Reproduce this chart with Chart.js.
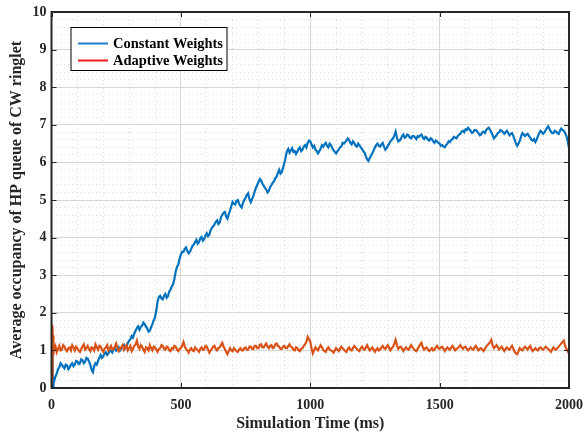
<!DOCTYPE html>
<html lang="en">
<head>
<meta charset="UTF-8">
<title>HP queue occupancy</title>
<script src="https://cdn.jsdelivr.net/npm/chart.js@4.4.3/dist/chart.umd.min.js"></script>
<style>
  html, body { margin: 0; padding: 0; background: #fff; }
</style>
</head>
<body>
<canvas id="chart" width="584" height="434"></canvas>
<script>
// start-up transient, sampled every ms
const earlyTime = [0, 1, 2, 3, 4, 5, 6, 7, 8];
const constantEarly = [0, 0.95, 0.10, 0.90, 0.05, 0.60, 0.02, 0.10, 0.12];
const adaptiveEarly = [0, 1.70, 0.30, 1.65, 0.60, 1.55, 0.90, 1.40, 1.00];

// afterwards one sample every 5 ms (10 .. 2000), one row = 50 ms
const sampleStart = 10;
const sampleStep = 5;
const constantWeights = [
  0.18, 0.30, 0.38, 0.50, 0.55, 0.66, 0.62, 0.56, 0.52, 0.62,
  0.60, 0.50, 0.55, 0.62, 0.66, 0.58, 0.62, 0.72, 0.71, 0.64,
  0.66, 0.76, 0.74, 0.66, 0.70, 0.80, 0.78, 0.70, 0.62, 0.48,
  0.42, 0.58, 0.66, 0.62, 0.72, 0.80, 0.88, 0.80, 0.84, 0.92,
  0.95, 0.88, 0.92, 1.00, 0.98, 0.94, 1.04, 1.06, 0.99, 1.02,
  1.08, 1.00, 1.05, 1.12, 1.15, 1.06, 1.10, 1.20, 1.26, 1.30,
  1.38, 1.34, 1.45, 1.52, 1.60, 1.64, 1.55, 1.62, 1.66, 1.74,
  1.70, 1.64, 1.58, 1.50, 1.52, 1.62, 1.70, 1.80, 1.88, 2.06,
  2.30, 2.42, 2.45, 2.38, 2.36, 2.46, 2.50, 2.40, 2.44, 2.56,
  2.62, 2.70, 2.76, 2.90, 3.10, 3.22, 3.28, 3.44, 3.55, 3.62,
  3.62, 3.70, 3.74, 3.64, 3.58, 3.62, 3.70, 3.78, 3.82, 3.88,
  3.94, 3.84, 3.88, 3.98, 4.02, 3.92, 3.96, 4.06, 4.12, 4.04,
  4.08, 4.20, 4.26, 4.30, 4.35, 4.42, 4.46, 4.36, 4.40, 4.54,
  4.60, 4.66, 4.68, 4.56, 4.50, 4.62, 4.72, 4.84, 4.95, 4.90,
  4.88, 4.98, 5.00, 4.90, 4.84, 4.80, 4.92, 5.00, 5.06, 5.14,
  5.18, 5.02, 4.94, 5.02, 5.10, 5.22, 5.32, 5.40, 5.48, 5.56,
  5.52, 5.44, 5.38, 5.32, 5.28, 5.20, 5.24, 5.34, 5.40, 5.46,
  5.50, 5.58, 5.62, 5.72, 5.80, 5.70, 5.74, 5.86, 5.98, 6.14,
  6.30, 6.36, 6.26, 6.32, 6.38, 6.28, 6.30, 6.22, 6.28, 6.36,
  6.40, 6.30, 6.34, 6.42, 6.46, 6.40, 6.52, 6.58, 6.56, 6.48,
  6.40, 6.44, 6.34, 6.30, 6.24, 6.30, 6.36, 6.46, 6.42, 6.48,
  6.52, 6.44, 6.40, 6.50, 6.46, 6.38, 6.32, 6.28, 6.24, 6.30,
  6.34, 6.40, 6.42, 6.52, 6.50, 6.54, 6.58, 6.64, 6.60, 6.52,
  6.48, 6.56, 6.52, 6.44, 6.42, 6.50, 6.46, 6.40, 6.36, 6.30,
  6.26, 6.16, 6.08, 6.04, 6.12, 6.18, 6.24, 6.32, 6.40, 6.46,
  6.50, 6.44, 6.42, 6.48, 6.52, 6.42, 6.34, 6.38, 6.44, 6.50,
  6.56, 6.60, 6.64, 6.72, 6.82, 6.66, 6.56, 6.58, 6.62, 6.70,
  6.74, 6.66, 6.68, 6.74, 6.72, 6.66, 6.64, 6.70, 6.70, 6.66,
  6.62, 6.70, 6.68, 6.72, 6.74, 6.66, 6.62, 6.68, 6.66, 6.60,
  6.58, 6.64, 6.62, 6.56, 6.52, 6.58, 6.56, 6.52, 6.50, 6.44,
  6.46, 6.42, 6.40, 6.46, 6.50, 6.56, 6.54, 6.60, 6.62, 6.68,
  6.66, 6.64, 6.70, 6.74, 6.76, 6.82, 6.84, 6.80, 6.88, 6.86,
  6.92, 6.88, 6.84, 6.78, 6.80, 6.86, 6.86, 6.82, 6.78, 6.72,
  6.74, 6.80, 6.82, 6.78, 6.86, 6.90, 6.92, 6.86, 6.80, 6.72,
  6.64, 6.68, 6.72, 6.78, 6.80, 6.86, 6.84, 6.80, 6.76, 6.80,
  6.84, 6.78, 6.72, 6.76, 6.78, 6.70, 6.60, 6.50, 6.44, 6.50,
  6.58, 6.70, 6.78, 6.74, 6.70, 6.74, 6.76, 6.70, 6.66, 6.60,
  6.58, 6.62, 6.54, 6.60, 6.70, 6.78, 6.84, 6.80, 6.76, 6.80,
  6.86, 6.92, 6.96, 6.88, 6.82, 6.78, 6.78, 6.84, 6.82, 6.78,
  6.76, 6.84, 6.90, 6.86, 6.84, 6.78, 6.70, 6.56, 6.38
];
const adaptiveWeights = [
  1.05, 1.12, 0.95, 1.04, 1.12, 1.00, 1.02, 1.14, 1.10, 1.02,
  0.98, 1.06, 1.08, 1.00, 1.14, 1.08, 1.00, 1.10, 1.06, 1.00,
  0.96, 1.04, 1.10, 1.16, 1.02, 1.06, 1.12, 1.04, 0.98, 1.08,
  1.06, 1.00, 1.16, 1.08, 1.02, 1.12, 1.10, 1.02, 0.96, 1.04,
  1.08, 1.14, 1.00, 1.06, 1.12, 1.02, 1.04, 1.10, 1.18, 1.06,
  0.98, 1.04, 1.08, 1.14, 1.02, 1.08, 1.14, 1.00, 1.06, 1.12,
  0.98, 1.04, 1.12, 1.16, 1.26, 1.10, 1.04, 1.14, 1.10, 1.02,
  0.96, 1.08, 1.06, 1.00, 1.14, 1.06, 1.00, 1.10, 1.08, 1.02,
  0.96, 1.04, 1.06, 1.14, 1.12, 1.04, 1.02, 1.10, 1.08, 1.00,
  0.98, 1.06, 1.04, 1.12, 1.10, 1.02, 0.98, 1.04, 1.06, 1.12,
  1.22, 1.10, 1.04, 1.00, 0.94, 1.02, 1.06, 1.00, 0.98, 1.08,
  1.04, 1.00, 0.96, 1.04, 1.08, 1.02, 1.02, 1.12, 1.10, 1.02,
  0.94, 1.00, 1.04, 1.10, 1.12, 1.04, 1.00, 1.06, 1.08, 1.14,
  1.20, 1.10, 1.04, 0.96, 0.90, 0.98, 1.06, 1.00, 0.98, 1.06,
  1.02, 0.98, 0.96, 1.02, 1.06, 1.00, 1.00, 1.06, 1.08, 1.02,
  1.02, 1.10, 1.10, 1.04, 1.04, 1.12, 1.12, 1.06, 1.06, 1.14,
  1.16, 1.08, 1.08, 1.14, 1.18, 1.10, 1.06, 1.12, 1.14, 1.06,
  1.08, 1.16, 1.18, 1.12, 1.10, 1.04, 1.04, 1.10, 1.12, 1.06,
  1.06, 1.12, 1.16, 1.10, 1.08, 1.02, 1.00, 1.08, 1.06, 1.00,
  0.98, 1.04, 1.06, 1.12, 1.16, 1.22, 1.36, 1.30, 1.24, 1.06,
  0.92, 1.00, 1.08, 1.04, 1.00, 1.08, 1.14, 1.08, 1.02, 0.98,
  0.96, 1.04, 1.08, 1.02, 1.00, 0.98, 0.94, 1.00, 1.06, 1.02,
  0.98, 1.04, 1.10, 1.06, 1.02, 0.98, 0.96, 1.04, 1.08, 1.02,
  1.00, 1.06, 1.12, 1.08, 1.04, 1.00, 0.98, 1.06, 1.10, 1.04,
  1.02, 1.08, 1.14, 1.06, 1.00, 1.04, 1.08, 1.02, 0.96, 1.02,
  1.06, 1.00, 1.02, 1.08, 1.12, 1.06, 1.04, 1.10, 1.14, 1.06,
  1.00, 1.06, 1.10, 1.18, 1.28, 1.14, 1.04, 1.08, 1.10, 1.04,
  0.98, 1.04, 1.08, 1.04, 1.02, 1.08, 1.14, 1.08, 1.04, 1.00,
  0.98, 1.04, 1.10, 1.16, 1.20, 1.08, 1.02, 1.06, 1.08, 1.02,
  0.98, 1.02, 1.06, 1.00, 1.02, 1.08, 1.12, 1.06, 1.04, 1.08,
  1.10, 1.04, 0.98, 1.04, 1.08, 1.04, 1.02, 1.08, 1.12, 1.06,
  1.00, 1.04, 1.06, 1.10, 1.14, 1.08, 1.04, 1.08, 1.10, 1.04,
  1.00, 1.04, 1.08, 1.04, 1.02, 1.08, 1.12, 1.06, 1.00, 1.04,
  1.06, 1.02, 0.98, 1.04, 1.10, 1.14, 1.18, 1.22, 1.28, 1.12,
  1.06, 1.10, 1.14, 1.08, 1.02, 1.06, 1.10, 1.04, 0.98, 1.04,
  1.08, 1.04, 1.02, 1.08, 1.12, 1.04, 0.96, 0.92, 0.90, 0.98,
  1.06, 1.02, 1.00, 1.06, 1.10, 1.06, 1.02, 1.08, 1.12, 1.04,
  0.98, 1.02, 1.06, 1.02, 1.00, 1.06, 1.08, 1.04, 1.02, 1.06,
  1.10, 1.06, 1.04, 1.00, 0.96, 1.02, 1.08, 1.04, 1.02, 1.06,
  1.10, 1.14, 1.18, 1.22, 1.26, 1.12, 1.04, 0.98, 0.92
];

const xTicks = [0, 500, 1000, 1500, 2000];
const yTicks = [0, 1, 2, 3, 4, 5, 6, 7, 8, 9, 10];
const seriesNames = ['Constant Weights', 'Adaptive Weights'];

const lineColors = ['#0072BD', '#D95319'];
const legendColors = ['#1F7ECF', '#EE1C1C'];
const serif = "'Liberation Serif', 'Times New Roman', serif";

function toPoints(early, main) {
  const pts = earlyTime.map((t, i) => ({ x: t, y: early[i] }));
  main.forEach((v, i) => pts.push({ x: sampleStart + i * sampleStep, y: v }));
  return pts;
}

function isWhole(v) {
  return Math.abs(v - Math.round(v)) < 1e-6;
}

// box, inward ticks on all four sides, legend inside the axes
const matlabFrame = {
  id: 'matlabFrame',
  afterDraw(chart) {
    const { ctx, chartArea: a, scales } = chart;
    const x = scales.x, y = scales.y;
    ctx.save();
    ctx.strokeStyle = '#262626';
    ctx.lineWidth = 1;
    ctx.beginPath();
    xTicks.forEach(v => {
      const px = Math.round(x.getPixelForValue(v)) + 0.5;
      ctx.moveTo(px, a.bottom); ctx.lineTo(px, a.bottom - 5);
      ctx.moveTo(px, a.top); ctx.lineTo(px, a.top + 5);
    });
    yTicks.forEach(v => {
      const py = Math.round(y.getPixelForValue(v)) + 0.5;
      ctx.moveTo(a.left, py); ctx.lineTo(a.left + 5, py);
      ctx.moveTo(a.right, py); ctx.lineTo(a.right - 5, py);
    });
    ctx.stroke();
    ctx.lineWidth = 2;
    ctx.strokeRect(a.left, a.top, a.right - a.left, a.bottom - a.top);

    // legend
    const lx = a.left + 19.5, ly = a.top + 15.5;
    ctx.fillStyle = '#fff';
    ctx.fillRect(lx, ly, 156, 43);
    ctx.lineWidth = 1;
    ctx.strokeStyle = '#000';
    ctx.strokeRect(lx, ly, 156, 43);
    ctx.font = 'bold 14.5px ' + serif;
    ctx.textBaseline = 'middle';
    ctx.textAlign = 'left';
    seriesNames.forEach((name, i) => {
      const ry = ly + 16 + i * 17;
      ctx.strokeStyle = legendColors[i];
      ctx.lineWidth = 2;
      ctx.beginPath();
      ctx.moveTo(lx + 7, ry); ctx.lineTo(lx + 37, ry);
      ctx.stroke();
      ctx.fillStyle = '#000';
      ctx.fillText(name, lx + 42, ry + 1);
    });
    ctx.restore();
  }
};

const ctx = document.getElementById('chart').getContext('2d');
const chart = new Chart(ctx, {
  type: 'line',
  data: {
    datasets: [
      {
        label: seriesNames[0],
        data: toPoints(constantEarly, constantWeights),
        borderColor: lineColors[0],
        borderWidth: 2.2,
        pointRadius: 0,
        tension: 0,
        order: 1
      },
      {
        label: seriesNames[1],
        data: toPoints(adaptiveEarly, adaptiveWeights),
        borderColor: lineColors[1],
        borderWidth: 2.2,
        pointRadius: 0,
        tension: 0,
        order: 0
      }
    ]
  },
  plugins: [matlabFrame],
  options: {
    responsive: false,
    animation: false,
    parsing: false,
    layout: { padding: { top: 12, right: 15, left: 0, bottom: 0 } },
    plugins: {
      legend: { display: false },
      tooltip: { enabled: false }
    },
    scales: {
      x: {
        type: 'linear',
        min: 0,
        max: 2000,
        afterFit: s => { s.height = 46; s.paddingLeft = 0; s.paddingRight = 0; },
        ticks: {
          stepSize: 100,
          autoSkip: false,
          maxRotation: 0,
          padding: 9,
          color: '#262626',
          font: { family: serif, size: 14, weight: 'bold' },
          callback: v => (v % 500 === 0 ? v : '')
        },
        grid: {
          drawTicks: false,
          color: c => (c.tick && c.tick.value % 500 === 0 ? '#d6d6d6' : '#dedede'),
          lineWidth: 1
        },
        border: {
          display: false,
          dash: c => (c.tick && c.tick.value % 500 === 0 ? [] : [1, 3])
        },
        title: {
          display: true,
          text: 'Simulation Time (ms)',
          color: '#262626',
          font: { family: serif, size: 16, weight: 'bold' },
          padding: { top: 0, bottom: 1 }
        }
      },
      y: {
        type: 'linear',
        min: 0,
        max: 10,
        afterFit: s => { s.width = 51.5; s.paddingTop = 0; s.paddingBottom = 0; },
        ticks: {
          stepSize: 0.2,
          autoSkip: false,
          padding: 5,
          color: '#262626',
          font: { family: serif, size: 14, weight: 'bold' },
          callback: v => (isWhole(v) ? Math.round(v) : '')
        },
        grid: {
          drawTicks: false,
          color: c => (c.tick && isWhole(c.tick.value) ? '#d6d6d6' : '#dedede'),
          lineWidth: 1
        },
        border: {
          display: false,
          dash: c => (c.tick && isWhole(c.tick.value) ? [] : [1, 3])
        },
        title: {
          display: true,
          text: 'Average occupancy of HP queue of CW ringlet',
          color: '#262626',
          font: { family: serif, size: 16, weight: 'bold' },
          padding: { top: 7, bottom: 0 }
        }
      }
    }
  }
});
</script>
</body>
</html>
